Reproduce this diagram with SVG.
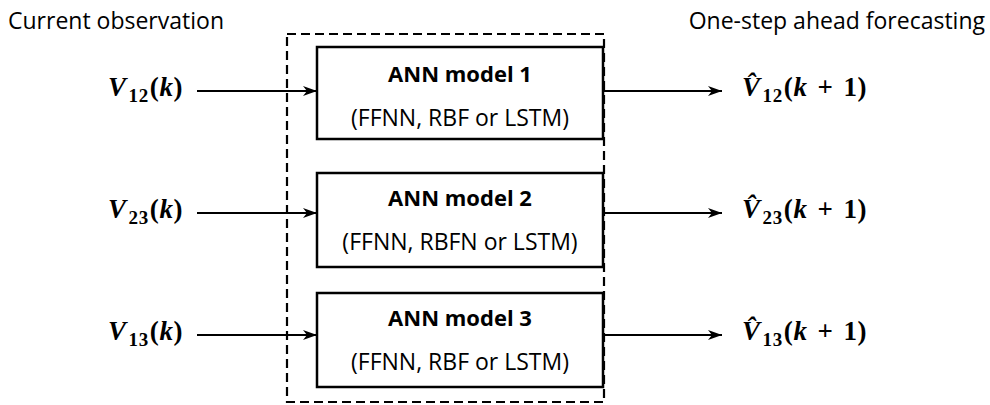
<svg xmlns="http://www.w3.org/2000/svg" width="990" height="405" viewBox="0 0 990 405">
  <defs>
    <marker id="arrow" viewBox="0 0 14 10" refX="14" refY="5" markerWidth="14" markerHeight="10" markerUnits="userSpaceOnUse" orient="auto">
      <path d="M0,0 L14,5 L0,10 L4,5 Z" fill="#000"/>
    </marker>
    <style>
      .caption { font-family: "Open Sans", "Liberation Sans", sans-serif; font-size: 23px; fill: #000; }
      .title { font-family: "Open Sans", "Liberation Sans", sans-serif; font-size: 22px; font-weight: bold; fill: #000; text-anchor: middle; }
      .sub { font-family: "Open Sans", "Liberation Sans", sans-serif; font-size: 23px; fill: #000; text-anchor: middle; }
      .math { font-family: "Liberation Serif", "DejaVu Serif", serif; font-size: 27px; font-weight: bold; font-style: italic; fill: #000; letter-spacing: 0.6px; }
      .up { font-style: normal; }
      .idx { font-style: normal; font-size: 19px; }
      .box { fill: #fff; stroke: #000; stroke-width: 2.5; }
      .frame { fill: none; stroke: #000; stroke-width: 2.2; stroke-dasharray: 9 5; }
      .link { fill: none; stroke: #000; stroke-width: 2.2; marker-end: url(#arrow); }
    </style>
  </defs>

  <rect width="990" height="405" fill="#fff"/>

  <!-- column captions -->
  <text class="caption" x="8" y="29">Current observation</text>
  <text class="caption" x="985" y="29" text-anchor="end">One-step ahead forecasting</text>

  <!-- dashed enclosure around the three models -->
  <rect id="enclosure" class="frame" x="287" y="34" width="317" height="368"/>

  <!-- connectors -->
  <g id="connectors">
    <line class="link" x1="197" y1="91" x2="317" y2="91"/>
    <line class="link" x1="603" y1="91" x2="722" y2="91"/>
    <line class="link" x1="197" y1="213" x2="317" y2="213"/>
    <line class="link" x1="603" y1="213" x2="722" y2="213"/>
    <line class="link" x1="197" y1="335" x2="317" y2="335"/>
    <line class="link" x1="603" y1="335" x2="722" y2="335"/>
  </g>

  <!-- models -->
  <g id="model1">
    <rect class="box" x="317" y="47" width="286" height="92"/>
    <text class="title" x="460" y="82">ANN model 1</text>
    <text class="sub" x="460" y="126">(FFNN, RBF or LSTM)</text>
  </g>
  <g id="model2">
    <rect class="box" x="317" y="173" width="286" height="94"/>
    <text class="title" x="460" y="206">ANN model 2</text>
    <text class="sub" x="460" y="250">(FFNN, RBFN or LSTM)</text>
  </g>
  <g id="model3">
    <rect class="box" x="317" y="293" width="286" height="94"/>
    <text class="title" x="460" y="326">ANN model 3</text>
    <text class="sub" x="460" y="370">(FFNN, RBF or LSTM)</text>
  </g>

  <!-- inputs -->
  <g id="input1"><text class="math" x="108" y="96">V<tspan class="idx" dx="2" dy="6">12</tspan><tspan class="up" dx="1" dy="-6">(</tspan>k<tspan class="up">)</tspan></text></g>
  <g id="input2"><text class="math" x="108" y="218">V<tspan class="idx" dx="2" dy="6">23</tspan><tspan class="up" dx="1" dy="-6">(</tspan>k<tspan class="up">)</tspan></text></g>
  <g id="input3"><text class="math" x="108" y="340">V<tspan class="idx" dx="2" dy="6">13</tspan><tspan class="up" dx="1" dy="-6">(</tspan>k<tspan class="up">)</tspan></text></g>

  <!-- outputs -->
  <g id="output1"><text class="math" x="742" y="96">V̂<tspan class="idx" dx="2" dy="6">12</tspan><tspan class="up" dx="1" dy="-6">(</tspan>k<tspan class="up" dx="10">+</tspan><tspan class="up" dx="10">1)</tspan></text></g>
  <g id="output2"><text class="math" x="742" y="218">V̂<tspan class="idx" dx="2" dy="6">23</tspan><tspan class="up" dx="1" dy="-6">(</tspan>k<tspan class="up" dx="10">+</tspan><tspan class="up" dx="10">1)</tspan></text></g>
  <g id="output3"><text class="math" x="742" y="340">V̂<tspan class="idx" dx="2" dy="6">13</tspan><tspan class="up" dx="1" dy="-6">(</tspan>k<tspan class="up" dx="10">+</tspan><tspan class="up" dx="10">1)</tspan></text></g>
</svg>
